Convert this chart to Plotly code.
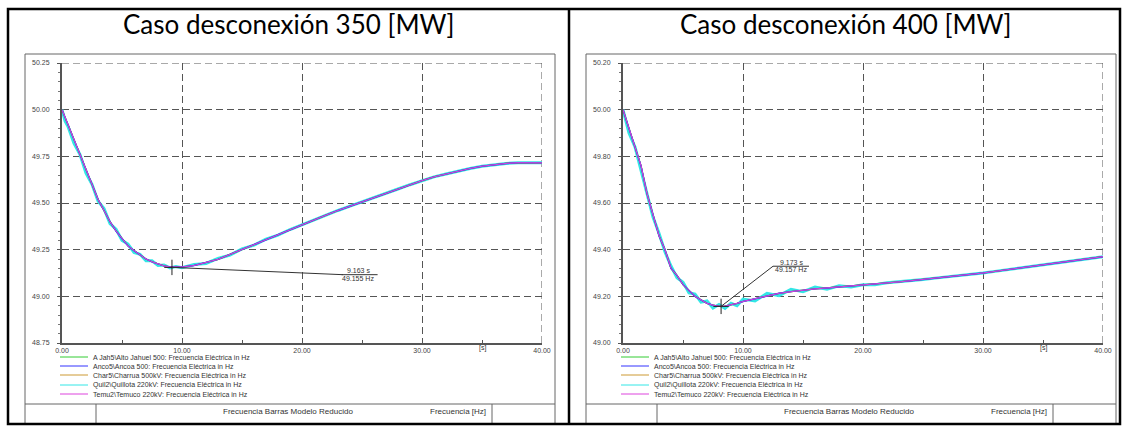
import plotly.graph_objects as go

W, H = 1125, 428

# ---------------- data ----------------
t = [0, 0.25, 0.5, 1, 1.5, 2, 2.5, 3, 3.5, 4, 4.5, 5, 5.5, 6, 6.5, 7, 7.5, 8, 8.5, 9, 9.5,
     10, 11, 12, 13, 14, 15, 16, 17, 18, 19, 20, 21, 22, 23, 24, 25, 26, 27, 28, 29, 30,
     31, 32, 33, 34, 35, 36, 37, 38, 39, 40]

f350_temuco = [50.00, 49.96, 49.92, 49.84, 49.75, 49.67, 49.59, 49.52, 49.46, 49.40, 49.35,
               49.31, 49.27, 49.245, 49.22, 49.20, 49.185, 49.172, 49.163, 49.157, 49.155,
               49.157, 49.165, 49.18, 49.198, 49.225, 49.25, 49.277, 49.303, 49.33, 49.357,
               49.385, 49.41, 49.435, 49.46, 49.483, 49.505, 49.527, 49.55, 49.575, 49.598,
               49.62, 49.64, 49.655, 49.672, 49.685, 49.697, 49.705, 49.712, 49.716, 49.717,
               49.715]
f350_ajahuel = [50.00, 49.96, 49.92, 49.84, 49.75, 49.67, 49.59, 49.52, 49.46, 49.40, 49.35,
                49.31, 49.27, 49.245, 49.22, 49.20, 49.185, 49.172, 49.163, 49.157, 49.155,
                49.157, 49.165, 49.18, 49.198, 49.225, 49.25, 49.277, 49.303, 49.33, 49.357,
                49.385, 49.41, 49.435, 49.46, 49.483, 49.505, 49.527, 49.55, 49.575, 49.598,
                49.62, 49.64, 49.655, 49.672, 49.685, 49.697, 49.705, 49.712, 49.716, 49.717,
                49.715]
f350_ancoa = list(f350_ajahuel)
f350_charrua = list(f350_ajahuel)
f350_quillota = [50.00, 49.94, 49.91, 49.82, 49.76, 49.66, 49.60, 49.51, 49.47, 49.39, 49.36,
                 49.30, 49.28, 49.235, 49.225, 49.19, 49.19, 49.165, 49.168, 49.152, 49.16,
                 49.153, 49.17, 49.176, 49.203, 49.221, 49.254, 49.274, 49.306, 49.328, 49.358,
                 49.384, 49.41, 49.435, 49.46, 49.483, 49.505, 49.527, 49.55, 49.575, 49.598,
                 49.62, 49.64, 49.655, 49.672, 49.685, 49.697, 49.705, 49.712, 49.716, 49.717,
                 49.715]

f400_temuco = [50.00, 49.96, 49.92, 49.85, 49.76, 49.64, 49.55, 49.46, 49.40, 49.32, 49.29,
               49.25, 49.225, 49.20, 49.185, 49.17, 49.162, 49.157, 49.158, 49.163, 49.17,
               49.178, 49.19, 49.203, 49.213, 49.22, 49.227, 49.232, 49.236, 49.24, 49.243,
               49.247, 49.252, 49.257, 49.262, 49.267, 49.272, 49.278, 49.283, 49.289, 49.295,
               49.30, 49.307, 49.314, 49.321, 49.328, 49.335, 49.342, 49.349, 49.356, 49.363,
               49.37]
f400_ajahuel = list(f400_temuco)
f400_ancoa = list(f400_temuco)
f400_charrua = list(f400_temuco)
f400_quillota = [50.00, 49.95, 49.90, 49.84, 49.74, 49.65, 49.54, 49.47, 49.39, 49.33, 49.28,
                 49.26, 49.215, 49.21, 49.175, 49.18, 49.15, 49.165, 49.148, 49.17, 49.16,
                 49.188, 49.18, 49.213, 49.203, 49.23, 49.22, 49.24, 49.23, 49.245, 49.24,
                 49.25, 49.25, 49.258, 49.262, 49.267, 49.272, 49.278, 49.283, 49.289, 49.295,
                 49.30, 49.307, 49.314, 49.321, 49.328, 49.335, 49.342, 49.349, 49.356, 49.363,
                 49.37]

series_names = ["A Jah5\\Alto Jahuel 500: Frecuencia Eléctrica in Hz",
                "Anco5\\Ancoa 500: Frecuencia Eléctrica in Hz",
                "Char5\\Charrua 500kV: Frecuencia Eléctrica in Hz",
                "Quil2\\Quillota 220kV: Frecuencia Eléctrica in Hz",
                "Temu2\\Temuco 220kV: Frecuencia Eléctrica in Hz"]
series_colors = ["#33cc33", "#3333ff", "#cc9933", "#33e6e6", "#dd44dd"]

titles = ["Caso desconexión 350 [MW]", "Caso desconexión 400 [MW]"]
x_ticks = [0, 10, 20, 30, 40]
y_ticks_350 = [48.75, 49.00, 49.25, 49.50, 49.75, 50.00, 50.25]
y_ticks_400 = [49.00, 49.20, 49.40, 49.60, 49.80, 50.00, 50.20]
marker_350 = (9.163, 49.155)
marker_400 = (8.173, 49.157)
label_350 = ("9.163 s", "49.155 Hz")
label_400 = ("9.173 s", "49.157 Hz")
footer_left = "Frecuencia Barras Modelo Reducido"
footer_right = "Frecuencia [Hz]"

# ---------------- helpers ----------------
def px(x):
    return x / W

def py(y):
    return 1 - y / H

fig = go.Figure()

panels = [
    dict(dx=0, xa="x", ya="y", data=[f350_ajahuel, f350_ancoa, f350_charrua, f350_quillota, f350_temuco],
         yt=y_ticks_350, yr=[48.75, 50.25], mk=marker_350, lab=label_350,
         lab_pos=(24.7, 49.137, 49.097), lead=(23.4, 49.116), under=(23.3, 26.3)),
    dict(dx=561, xa="x2", ya="y2", data=[f400_ajahuel, f400_ancoa, f400_charrua, f400_quillota, f400_temuco],
         yt=y_ticks_400, yr=[49.0, 50.2], mk=marker_400, lab=label_400,
         lab_pos=(14.0, 49.345, 49.313), lead=(12.5, 49.329), under=(12.5, 15.5)),
]

draw_order = [3, 0, 2, 1, 4]
widths = {0: 1.2, 1: 1.4, 2: 1.2, 3: 3.0, 4: 1.0}
GRID_DASH = "7px,4px"

shapes = []
annotations = []

def txt(x, y, text, size=7, xref="paper", yref="paper", xanchor="center", family="Liberation Sans", color="#333"):
    annotations.append(dict(x=x, y=y, xref=xref, yref=yref, text=text, showarrow=False,
                            xanchor=xanchor, yanchor="middle",
                            font=dict(family=family, size=size, color=color)))

for p in panels:
    for i in draw_order:
        fig.add_trace(go.Scatter(x=t, y=p["data"][i], mode="lines", xaxis=p["xa"], yaxis=p["ya"],
                                 line=dict(color=series_colors[i], width=widths[i]),
                                 name=series_names[i], showlegend=False, hoverinfo="skip"))
    # marker cross
    fig.add_trace(go.Scatter(x=[p["mk"][0]], y=[p["mk"][1]], mode="markers", xaxis=p["xa"], yaxis=p["ya"],
                             marker=dict(symbol="cross-thin", size=11, line=dict(color="#222", width=1)),
                             showlegend=False, hoverinfo="skip"))
    # dashed grid lines at top and right edges of the plot
    shapes.append(dict(type="line", xref=p["xa"], yref=p["ya"], x0=0, x1=x_ticks[-1], y0=p["yr"][1], y1=p["yr"][1],
                       layer="below", line=dict(color="#555", width=1, dash=GRID_DASH)))
    shapes.append(dict(type="line", xref=p["xa"], yref=p["ya"], x0=x_ticks[-1], x1=x_ticks[-1],
                       y0=p["yr"][0], y1=p["yr"][1],
                       layer="below", line=dict(color="#555", width=1, dash=GRID_DASH)))
    # leader line and underline
    shapes.append(dict(type="line", xref=p["xa"], yref=p["ya"], x0=p["mk"][0], y0=p["mk"][1],
                       x1=p["lead"][0], y1=p["lead"][1], line=dict(color="#333", width=1)))
    shapes.append(dict(type="line", xref=p["xa"], yref=p["ya"], x0=p["under"][0], y0=p["lead"][1],
                       x1=p["under"][1], y1=p["lead"][1], line=dict(color="#333", width=1)))
    txt(p["lab_pos"][0], p["lab_pos"][1], p["lab"][0], xref=p["xa"], yref=p["ya"])
    txt(p["lab_pos"][0], p["lab_pos"][2], p["lab"][1], xref=p["xa"], yref=p["ya"])
    dx = p["dx"]
    # inner chart frame
    shapes.append(dict(type="rect", xref="paper", yref="paper", x0=px(25 + dx), x1=px(555 + dx),
                       y0=py(424), y1=py(54), line=dict(color="#666", width=1)))
    # footer table
    shapes.append(dict(type="line", xref="paper", yref="paper", x0=px(25 + dx), x1=px(555 + dx),
                       y0=py(404), y1=py(404), line=dict(color="#666", width=1)))
    for xv in (96, 492):
        shapes.append(dict(type="line", xref="paper", yref="paper", x0=px(xv + dx), x1=px(xv + dx),
                           y0=py(404), y1=py(424), line=dict(color="#666", width=1)))
    txt(px(288 + dx), py(411), footer_left, size=8)
    txt(px(458 + dx), py(411), footer_right, size=8)
    # [s] unit label
    txt(35, py(348), "[s]", xref=p["xa"])
    # legend
    rows = [357, 366, 375, 385, 394]
    for i, yy in enumerate(rows):
        shapes.append(dict(type="line", xref="paper", yref="paper", x0=px(60 + dx), x1=px(88 + dx),
                           y0=py(yy), y1=py(yy), line=dict(color=series_colors[i], width=1)))
        txt(px(91 + dx), py(yy), series_names[i], xanchor="left")

# titles
txt(px(288), py(24), titles[0], size=26, family="Lato", color="#000")
txt(px(845), py(24), titles[1], size=26, family="Lato", color="#000")

# outer black table
shapes.append(dict(type="rect", xref="paper", yref="paper", x0=px(8), x1=px(1120), y0=py(424), y1=py(9),
                   line=dict(color="#000", width=2.5)))
shapes.append(dict(type="line", xref="paper", yref="paper", x0=px(569), x1=px(569), y0=py(424), y1=py(9),
                   line=dict(color="#000", width=2.5)))

tickfont = dict(family="Liberation Sans", size=7, color="#444")

def xaxis(dx, anchor):
    return dict(domain=[px(62 + dx), px(542 + dx)], range=[0, 40], tickvals=x_ticks, tickformat=".2f",
                showgrid=True, gridcolor="#555", griddash=GRID_DASH, gridwidth=1,
                showline=True, linecolor="#555", linewidth=2, ticks="inside", ticklen=3, tickcolor="#555",
                minor=dict(tickvals=[5, 15, 25, 35], ticks="inside", ticklen=3, tickcolor="#555", showgrid=False),
                ticklabelstandoff=0,
                zeroline=False, tickfont=tickfont, anchor=anchor, fixedrange=True, automargin=False)

def yaxis(dx, anchor, rng, ticks, minor_dt):
    return dict(domain=[py(343), py(63)], range=rng, tickvals=ticks, tickformat=".2f",
                showgrid=True, gridcolor="#555", griddash=GRID_DASH, gridwidth=1,
                showline=True, linecolor="#555", linewidth=2, ticks="outside", ticklen=3, tickcolor="#555",
                minor=dict(dtick=minor_dt, ticks="outside", ticklen=2, tickcolor="#777", showgrid=False),
                ticklabelstandoff=6,
                zeroline=False, tickfont=tickfont, anchor=anchor, fixedrange=True, automargin=False)

fig.update_layout(
    width=W, height=H, margin=dict(l=0, r=0, t=0, b=0, pad=0), autosize=False,
    paper_bgcolor="white", plot_bgcolor="white",
    xaxis=xaxis(0, "y"), yaxis=yaxis(0, "x", [48.75, 50.25], y_ticks_350, 0.05),
    xaxis2=xaxis(561, "y2"), yaxis2=yaxis(561, "x2", [49.0, 50.2], y_ticks_400, 0.04),
    shapes=shapes, annotations=annotations, showlegend=False,
)

fig.write_html("out.html", config={"displayModeBar": False},
               post_script="document.body.style.margin='0';document.body.style.overflow='hidden';")
